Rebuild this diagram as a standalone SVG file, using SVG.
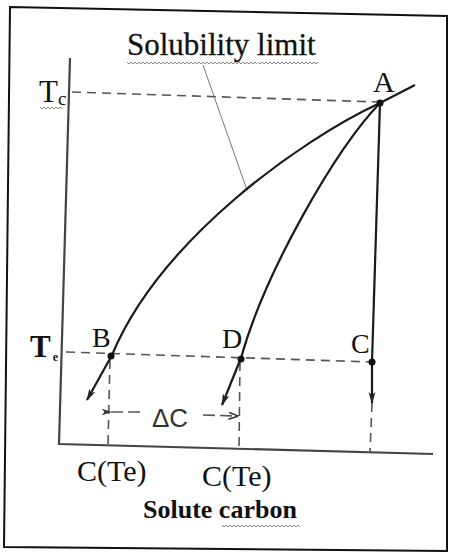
<svg xmlns="http://www.w3.org/2000/svg" width="449" height="555" viewBox="0 0 449 555">
<style>
.frame{fill:none;stroke:#111;stroke-width:2}
.axis{fill:none;stroke:#444;stroke-width:2.2}
.curve{fill:none;stroke:#1a1a1a;stroke-width:2.2}
.dash{fill:none;stroke:#555;stroke-width:1.6;stroke-dasharray:9 6}
.lead{fill:none;stroke:#777;stroke-width:1}
.wavy{fill:none;stroke:#777;stroke-width:0.9}
.dot{fill:#111}
.lbl{font-family:"Liberation Serif","Times New Roman",serif;fill:#111}
.sans{font-family:"Liberation Sans",Arial,sans-serif;fill:#333}
</style>
<defs>
<marker id="ah" viewBox="0 0 12 8" refX="11" refY="4" markerWidth="12" markerHeight="8" markerUnits="userSpaceOnUse" orient="auto">
<path d="M0,0.5 L12,4 L0,7.5 L3,4 Z" fill="#222"/>
</marker>
<marker id="ahs" viewBox="0 0 10 8" refX="9.5" refY="4" markerWidth="10" markerHeight="8" markerUnits="userSpaceOnUse" orient="auto">
<path d="M0,0.5 L10,4 L0,7.5" fill="none" stroke="#333" stroke-width="1.5"/>
</marker>
<marker id="ahl" viewBox="0 0 10 8" refX="0.5" refY="4" markerWidth="10" markerHeight="8" markerUnits="userSpaceOnUse" orient="auto">
<path d="M10,0.5 L0,4 L10,7.5 L7,4 Z" fill="#333"/>
</marker>
</defs>

<g id="frame">
<path class="frame" d="M10,7 L447,16 L447,551 L4,547 Z"/>
</g>

<g id="axes">
<path class="axis" d="M70,58 L59,444 L433,454"/>
</g>

<g id="connectors">
<path class="dash" d="M72,92 L378,102"/>
<path class="dash" d="M66,352 L372,362"/>
<path class="dash" d="M110,360 L108,445"/>
<path class="dash" d="M240,362 L239,449"/>
<path class="dash" d="M372,403 L370,453"/>
<path class="lead" d="M203,65 L247,190"/>
<path class="curve" d="M415,85 L380,103"/>
<path class="curve" d="M380,103 C300,140 160,240 112,355"/>
<path class="curve" d="M112,355 L87,400" marker-end="url(#ah)"/>
<path class="curve" d="M380,103 C335,150 265,272 241,358"/>
<path class="curve" d="M241,358 L222,405" marker-end="url(#ah)"/>
<path class="curve" d="M380,103 L372,362"/>
<path class="curve" d="M372,362 L372,403" marker-end="url(#ah)"/>
<path class="dash" d="M140,412 L111,412" marker-end="url(#ahl)" style="stroke-dasharray:12 5"/>
<path class="dash" d="M203,415 L238,416" marker-end="url(#ahs)" style="stroke-dasharray:12 5"/>
</g>

<g id="A">
<circle class="dot" cx="380" cy="103" r="3.5"/>
<text class="lbl" x="373" y="92" font-size="30">A</text>
</g>
<g id="B">
<circle class="dot" cx="111" cy="356" r="3.5"/>
<text class="lbl" x="92" y="347" font-size="28">B</text>
</g>
<g id="D">
<circle class="dot" cx="241" cy="359" r="3.5"/>
<text class="lbl" x="222" y="348" font-size="28">D</text>
</g>
<g id="C">
<circle class="dot" cx="372" cy="362" r="3.5"/>
<text class="lbl" x="351" y="353" font-size="28">C</text>
</g>

<g id="labels">
<text class="lbl" x="127" y="55" font-size="31" stroke="#111" stroke-width="0.3">Solubility limit</text>
<path class="wavy" d="M127,62 l2,2 l2,-2 l2,2 l2,-2 l2,2 l2,-2 l2,2 l2,-2 l2,2 l2,-2 l2,2 l2,-2 l2,2 l2,-2 l2,2 l2,-2 l2,2 l2,-2 l2,2 l2,-2 l2,2 l2,-2 l2,2 l2,-2 l2,2 l2,-2 l2,2 l2,-2 l2,2 l2,-2 l2,2 l2,-2 l2,2 l2,-2 l2,2 l2,-2 l2,2 l2,-2 l2,2 l2,-2 l2,2 l2,-2 l2,2 l2,-2 l2,2 l2,-2 l2,2 l2,-2 l2,2 l2,-2 l2,2 l2,-2 l2,2 l2,-2 l2,2 l2,-2 l2,2 l2,-2 l2,2 l2,-2 l2,2 l2,-2 l2,2 l2,-2 l2,2"/>
<path class="wavy" d="M258,62 l2,2 l2,-2 l2,2 l2,-2 l2,2 l2,-2 l2,2 l2,-2 l2,2 l2,-2 l2,2 l2,-2 l2,2 l2,-2 l2,2 l2,-2 l2,2 l2,-2 l2,2 l2,-2 l2,2 l2,-2 l2,2 l2,-2 l2,2 l2,-2 l2,2 l2,-2 l2,2 l2,-2"/>
<text class="lbl" x="39" y="102" font-size="31">T<tspan font-size="19" dx="0" dy="3">c</tspan></text>
<path class="wavy" d="M40,107 l2,2 l2,-2 l2,2 l2,-2 l2,2 l2,-2 l2,2 l2,-2 l2,2 l2,-2 l2,2"/>
<text class="lbl" x="30" y="357" font-size="31" font-weight="bold">T<tspan font-size="12" dx="2" dy="4">e</tspan></text>
<text class="sans" x="152" y="427" font-size="26">ΔC</text>
<text class="lbl" x="77" y="481" font-size="30">C(Te)</text>
<text class="lbl" x="202" y="486" font-size="30">C(Te)</text>
<text class="lbl" x="143" y="518" font-size="26" font-weight="bold">Solute carbon</text>
<path class="wavy" d="M222,525 l2,2 l2,-2 l2,2 l2,-2 l2,2 l2,-2 l2,2 l2,-2 l2,2 l2,-2 l2,2 l2,-2 l2,2 l2,-2 l2,2 l2,-2 l2,2 l2,-2 l2,2 l2,-2 l2,2 l2,-2 l2,2 l2,-2 l2,2 l2,-2 l2,2 l2,-2 l2,2 l2,-2 l2,2 l2,-2 l2,2 l2,-2 l2,2 l2,-2 l2,2 l2,-2 l2,2"/>
</g>
</svg>
